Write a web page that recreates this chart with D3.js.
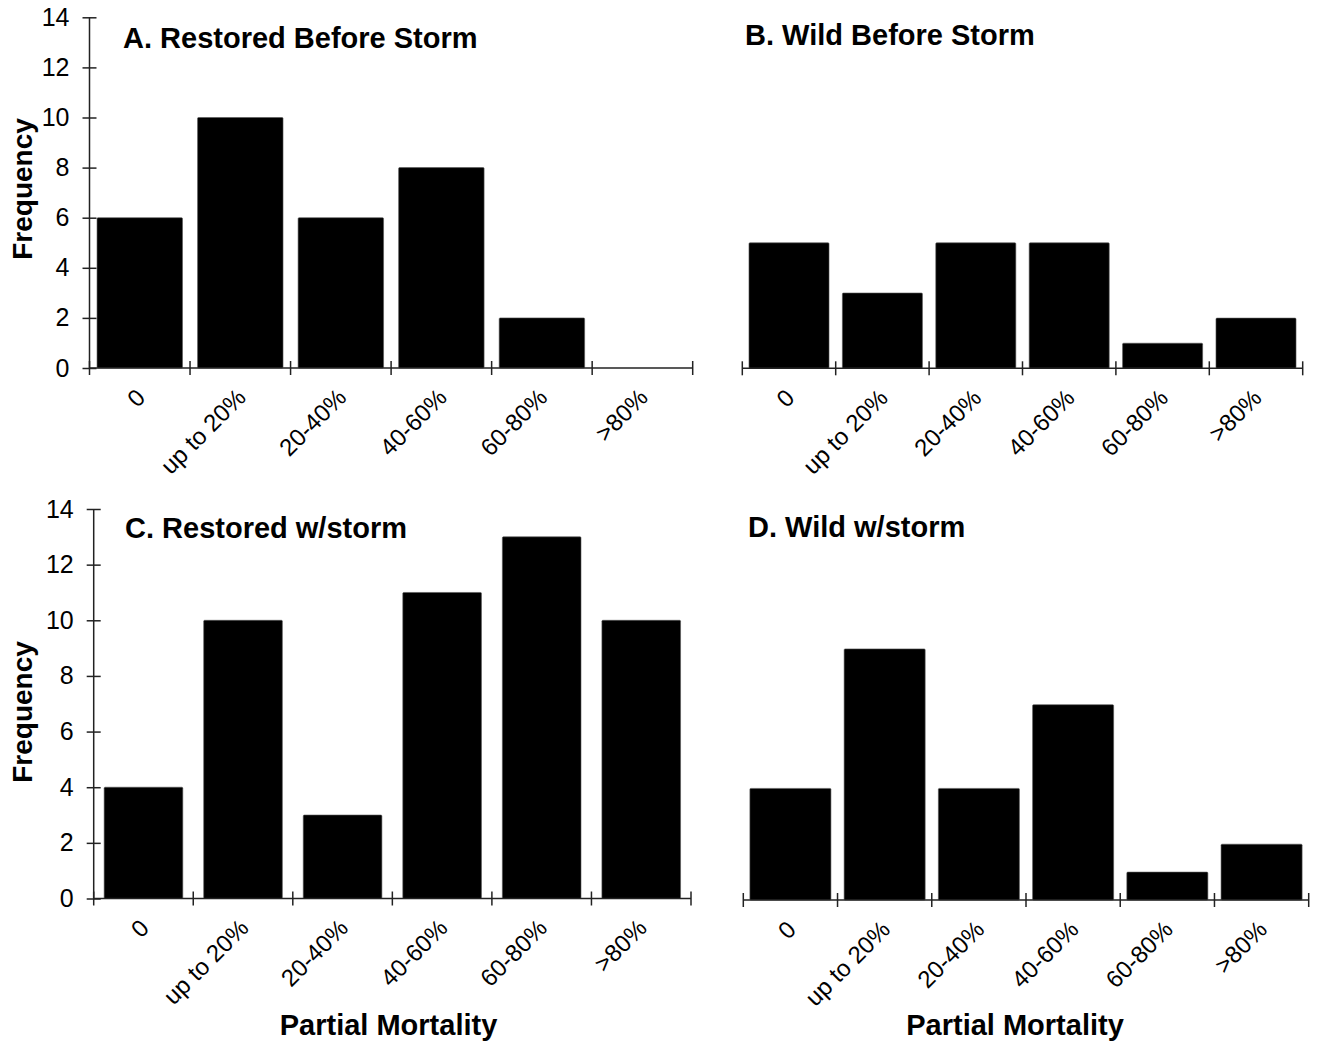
<!DOCTYPE html>
<html>
<head>
<meta charset="utf-8" />
<title>Partial Mortality</title>
<script src="https://cdnjs.cloudflare.com/ajax/libs/d3/7.8.5/d3.min.js"></script>
<style>
  html, body { margin: 0; background: #fff; }
  svg text { font-family: "Liberation Sans", Arial, sans-serif; fill: #000; }
</style>
</head>
<body>
<div id="chart"></div>
<script>
// categories + counts
var categories = ["0", "up to 20%", "20-40%", "40-60%", "60-80%", ">80%"];
var restoredBefore = [6, 10, 6, 8, 2, 0];
var wildBefore = [5, 3, 5, 5, 1, 2];
var restoredStorm = [4, 10, 3, 11, 13, 10];
var wildStorm = [4, 9, 4, 7, 1, 2];
var yTicks = [0, 2, 4, 6, 8, 10, 12, 14];
var titles = ["A. Restored Before Storm", "B. Wild Before Storm", "C. Restored w/storm", "D. Wild w/storm"];

var W = 1319, H = 1048;
var svg = d3.select("#chart").append("svg").attr("width", W).attr("height", H);

// panel geometry (pixels)
var panels = [
  {vals: restoredBefore, title: titles[0], x0: 89.5, x1: 692.7, yTop: 17.3, yBot: 368, pad: 0.15, yAxis: true, fy: 189, tx: 123, ty: 47.5},
  {vals: wildBefore, title: titles[1], x0: 742.3, x1: 1302.7, yTop: 17, yBot: 368.3, pad: 0.143, yAxis: false, tx: 745, ty: 45},
  {vals: restoredStorm, title: titles[2], x0: 93.7, x1: 691, yTop: 509, yBot: 898.5, pad: 0.21, yAxis: true, fy: 712, tx: 125, ty: 538, xl: 388.5},
  {vals: wildStorm, title: titles[3], x0: 743.3, x1: 1308.7, yTop: 509.4, yBot: 900, pad: 0.14, yAxis: false, tx: 748, ty: 537, xl: 1015}
];

panels.forEach(function(p) {
  var g = svg.append("g");
  var x = d3.scaleBand().domain(categories).range([p.x0, p.x1])
      .paddingInner(p.pad).paddingOuter(p.pad / 2);
  var y = d3.scaleLinear().domain([0, 14]).range([p.yBot, p.yTop]);

  // bars
  g.selectAll("rect.bar").data(p.vals).enter().append("rect")
    .attr("class", "bar")
    .attr("x", function(d, i) { return x(categories[i]); })
    .attr("width", x.bandwidth())
    .attr("y", function(d) { return y(d); })
    .attr("height", function(d) { return y(0) - y(d); })
    .attr("rx", 1)
    .attr("fill", "#000")
    .attr("stroke", "#555").attr("stroke-width", 0.6);

  // x axis line with boundary ticks crossing it
  var xa = g.append("g").attr("stroke", "#222").attr("stroke-width", 1.5);
  xa.append("line").attr("x1", p.x0).attr("x2", p.x1).attr("y1", y(0)).attr("y2", y(0));
  xa.selectAll("line.tk").data(d3.range(categories.length + 1)).enter().append("line")
    .attr("class", "tk")
    .attr("x1", function(i) { return p.x0 + i * x.step(); })
    .attr("x2", function(i) { return p.x0 + i * x.step(); })
    .attr("y1", y(0) - 7).attr("y2", y(0) + 7);

  // rotated category labels
  g.selectAll("text.cat").data(categories).enter().append("text")
    .attr("class", "cat")
    .attr("text-anchor", "end")
    .attr("font-size", 24)
    .attr("transform", function(c) {
      return "translate(" + (x(c) + x.bandwidth() / 2 + 7) + "," + (y(0) + 31) + ") rotate(-45)";
    })
    .text(function(c) { return c; });

  if (p.yAxis) {
    var ya = g.append("g").attr("transform", "translate(" + p.x0 + ",0)")
      .call(d3.axisLeft(y).tickValues(yTicks).tickSize(0).tickPadding(20));
    ya.select(".domain").attr("stroke", "#222").attr("stroke-width", 1.5);
    ya.selectAll(".tick").append("line")
      .attr("x1", -7).attr("x2", 7).attr("stroke", "#222").attr("stroke-width", 1.5);
    ya.selectAll(".tick text").attr("font-size", 25).attr("font-family", "Liberation Sans, Arial, sans-serif");
    ya.select(".domain").attr("d", "M0," + y(0) + "V" + y(14));

    g.append("text")
      .attr("transform", "translate(32," + p.fy + ") rotate(-90)")
      .attr("text-anchor", "middle")
      .attr("font-size", 28).attr("font-weight", "bold")
      .text("Frequency");
  }

  g.append("text").attr("x", p.tx).attr("y", p.ty)
    .attr("font-size", 29).attr("font-weight", "bold")
    .text(p.title);

  if (p.xl) {
    g.append("text").attr("x", p.xl).attr("y", 1035)
      .attr("text-anchor", "middle")
      .attr("font-size", 29).attr("font-weight", "bold")
      .text("Partial Mortality");
  }
});
</script>
</body>
</html>
